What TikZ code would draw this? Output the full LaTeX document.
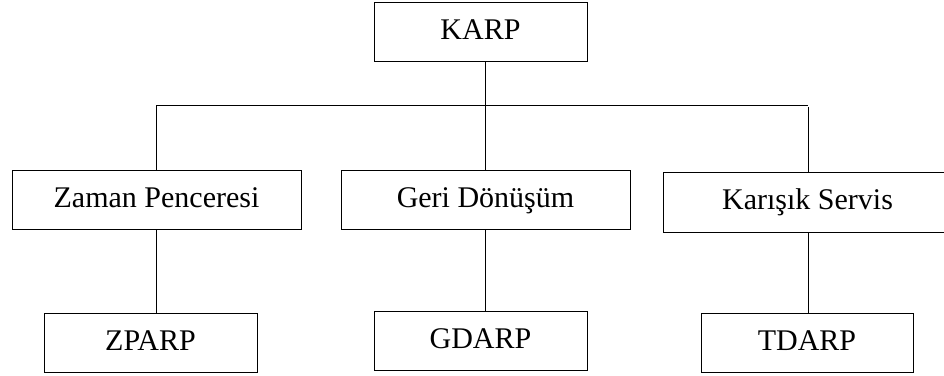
\documentclass[tikz,border=0pt]{standalone}
\usepackage{fontspec}
\setmainfont{Liberation Serif}
\begin{document}
\begin{tikzpicture}[x=1pt,y=-1pt,
  box/.style={draw, line width=0.9pt, rectangle, inner sep=0pt,
    font=\fontsize{30}{35}\selectfont, text height=21pt, text depth=6pt},
  link/.style={line width=0.9pt}]
  \useasboundingbox (0,0) rectangle (944,375);

  % top level
  \node[box, minimum width=213pt, minimum height=59pt] (karp) at (480.5,31.5) {KARP};

  % middle level
  \node[box, minimum width=289pt, minimum height=59pt] (zaman) at (156.5,199.5) {Zaman Penceresi};
  \node[box, minimum width=289pt, minimum height=59pt] (geri) at (485.5,199.5) {Geri Dönüşüm};
  \node[box, minimum width=289pt, minimum height=60pt] (karisik) at (807.5,202) {Karışık Servis};

  % bottom level
  \node[box, minimum width=213pt, minimum height=59pt] (zparp) at (150.5,342.5) {ZPARP};
  \node[box, minimum width=213pt, minimum height=59pt] (gdarp) at (480.5,340.5) {GDARP};
  \node[box, minimum width=212pt, minimum height=59pt] (tdarp) at (807,342.5) {TDARP};

  % drop positions of the vertical connectors
  \coordinate (c1) at (156,105);
  \coordinate (c2) at (485,105);
  \coordinate (c3) at (808,105);

  % bus and branches
  \draw[link] (karp.south -| c2) -- (c2);
  \draw[link] (c1) -- (c3);
  \draw[link] (c1) -- (zaman.north -| c1);
  \draw[link] (c2) -- (geri.north -| c2);
  \draw[link] ([yshift=-2pt]c3) -- (karisik.north -| c3);

  % leaf connectors
  \draw[link] (zaman.south -| c1) -- (zparp.north -| c1);
  \draw[link] (geri.south -| c2) -- (gdarp.north -| c2);
  \draw[link] (karisik.south -| c3) -- (tdarp.north -| c3);
\end{tikzpicture}
\end{document}
